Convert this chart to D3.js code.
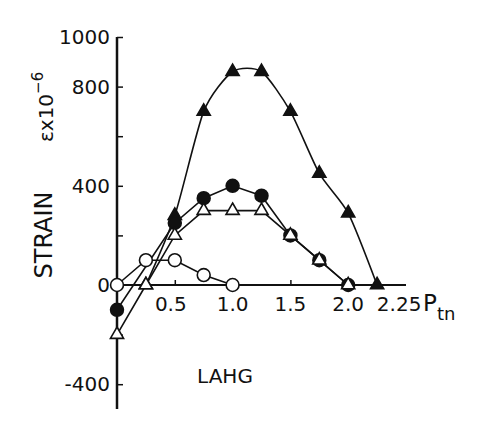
<!DOCTYPE html>
<html><head><meta charset="utf-8">
<script src="https://cdn.jsdelivr.net/npm/d3@7"></script>
<style>body{margin:0;background:#fff}svg{display:block}text{font-family:"DejaVu Sans",sans-serif;fill:#111}</style>
</head><body><svg id="c" width="486" height="431"></svg>
<script>
// Data (x = load P_tn, y = strain ×10^-6)
const triFilledX = [0.25, 0.5, 0.75, 1.0, 1.25, 1.5, 1.75, 2.0, 2.25];
const triFilledY = [0, 280, 700, 860, 860, 700, 450, 290, 0];
const circFilledX = [0, 0.5, 0.75, 1.0, 1.25, 1.5, 1.75, 2.0];
const circFilledY = [-100, 250, 350, 400, 360, 200, 100, 0];
const triOpenX = [0, 0.25, 0.5, 0.75, 1.0, 1.25, 1.5, 1.75, 2.0];
const triOpenY = [-200, 0, 200, 300, 300, 300, 200, 100, 0];
const circOpenX = [0, 0.25, 0.5, 0.75, 1.0];
const circOpenY = [0, 100, 100, 40, 0];
const xTickVals = [0.5, 1.0, 1.5, 2.0, 2.25];
const xTickLabels = ["0.5", "1.0", "1.5", "2.0", "2.25"];
const yTickVals = [-400, -200, 0, 200, 400, 600, 800, 1000];
const yTickLabels = ["-400", "", "0", "", "400", "", "800", "1000"];

const svg = d3.select("#c");
const x = d3.scaleLinear().domain([0, 2.5]).range([117, 406]);
const y = d3.scaleLinear().domain([-500, 1000]).range([409, 37]);

// axes
const yAxis = svg.append("g").attr("transform", `translate(${x(0)},0)`)
  .call(d3.axisRight(y).tickValues(yTickVals).tickSize(6).tickFormat(""));
yAxis.select(".domain").attr("d", `M0,${y(-500)}V${y(1000)}`).attr("stroke", "#111").attr("stroke-width", 2.5);
yAxis.selectAll(".tick line").attr("stroke", "#111").attr("stroke-width", 1.5);
svg.append("g").selectAll("text").data(yTickVals).join("text")
  .attr("x", x(0) - 7).attr("y", d => y(d) + 7)
  .attr("text-anchor", "end").attr("font-size", 20)
  .text((d, i) => yTickLabels[i]);

const xAxis = svg.append("g").attr("transform", `translate(0,${y(0)})`)
  .call(d3.axisTop(x).tickValues(xTickVals).tickSize(5).tickFormat(""));
xAxis.select(".domain").attr("d", `M${x(0)},0H${x(2.5)}`).attr("stroke", "#111").attr("stroke-width", 1.8);
xAxis.selectAll(".tick line").attr("stroke", "#111").attr("stroke-width", 1.5);
svg.append("g").selectAll("text").data(xTickVals).join("text")
  .attr("x", d => x(d) + (d === 2.25 ? 22 : (d === 0.5 ? -4 : 0)))
  .attr("y", y(0) + 26)
  .attr("text-anchor", "middle").attr("font-size", 20)
  .text((d, i) => xTickLabels[i]);

// P_tn label
const pl = svg.append("text").attr("x", 423).attr("y", 311).attr("font-size", 23);
pl.append("tspan").text("P");
pl.append("tspan").attr("font-size", 18).attr("dy", 9).text("tn");

// y labels
svg.append("text").attr("transform", `translate(52,235) rotate(-90)`)
  .attr("text-anchor", "middle").attr("font-size", 24).text("STRAIN");
const el = svg.append("text").attr("transform", `translate(53,142) rotate(-90)`)
  .attr("font-size", 20);
el.append("tspan").text("\u03b5x10");
el.append("tspan").attr("font-size", 15).attr("dy", -10).text("\u22126");

svg.append("text").attr("x", 225).attr("y", 383).attr("text-anchor", "middle")
  .attr("font-size", 20).text("LAHG");

// series
const mk = (xs, ys) => xs.map((v, i) => [v, ys[i]]);
const lineLin = d3.line().x(d => x(d[0])).y(d => y(d[1]));
const lineCurve = d3.line().x(d => x(d[0])).y(d => y(d[1])).curve(d3.curveCardinal.tension(0.3));

const tri = mk(triFilledX, triFilledY), cf = mk(circFilledX, circFilledY),
      to = mk(triOpenX, triOpenY), co = mk(circOpenX, circOpenY);

const lines = svg.append("g").attr("fill", "none").attr("stroke", "#111").attr("stroke-width", 1.6);
lines.append("path").attr("d", lineCurve(tri));
lines.append("path").attr("d", lineLin(cf));
lines.append("path").attr("d", lineLin(to));
lines.append("path").attr("d", lineLin(co));

const triSym = d3.symbol().type(d3.symbolTriangle).size(75);
const circSym = d3.symbol().type(d3.symbolCircle).size(130);
function markers(data, sym, filled) {
  svg.append("g").selectAll("path").data(data).join("path")
    .attr("transform", d => `translate(${x(d[0])},${y(d[1])})`)
    .attr("d", sym)
    .attr("fill", filled ? "#111" : "#fff")
    .attr("stroke", "#111").attr("stroke-width", 1.6);
}
markers(tri, triSym, true);
markers(cf, circSym, true);
markers(to, triSym, false);
markers(co, circSym, false);
</script></body></html>
